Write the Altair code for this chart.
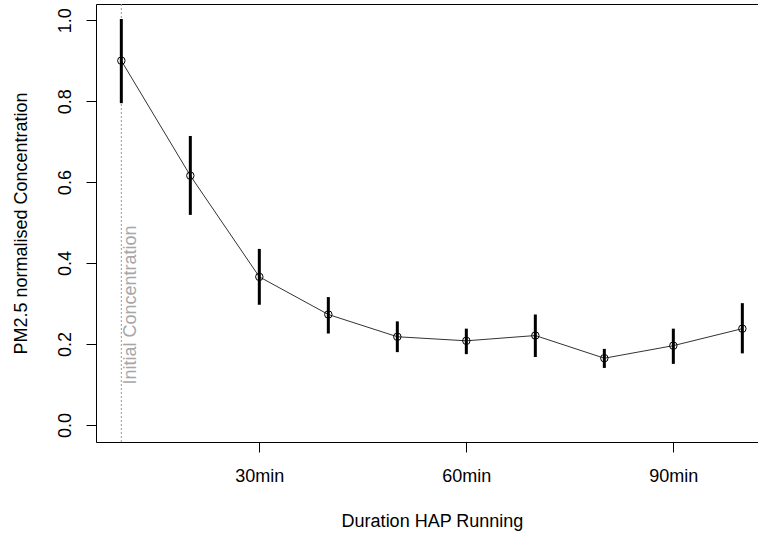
import altair as alt
import pandas as pd

# ---- data ----
minutes = [10, 20, 30, 40, 50, 60, 70, 80, 90, 100]
mean_conc = [0.900, 0.616, 0.366, 0.273, 0.218, 0.208, 0.221, 0.165, 0.196, 0.238]
lower_conc = [0.795, 0.519, 0.297, 0.226, 0.180, 0.175, 0.168, 0.141, 0.151, 0.177]
upper_conc = [1.003, 0.714, 0.435, 0.316, 0.256, 0.238, 0.273, 0.188, 0.238, 0.301]
x_tick_values = [30, 60, 90]
y_tick_values = [0.0, 0.2, 0.4, 0.6, 0.8, 1.0]
annot_time = [10]
annot_y = [0.1]
annot_label = ["Initial Concentration"]

df = pd.DataFrame({"t": minutes, "mean": mean_conc, "lo": lower_conc, "hi": upper_conc})
ann = pd.DataFrame({"t0": annot_time, "y0": annot_y, "label": annot_label})

FONT = "Liberation Sans"
xscale = alt.Scale(domain=[6.33, 102.27], nice=False, zero=False)
yscale = alt.Scale(domain=[-0.042, 1.04], nice=False, zero=False)

bottom_axis = alt.Axis(
    orient="bottom", values=x_tick_values, labelExpr="datum.value + 'min'",
    tickSize=10, tickColor="black", domainColor="black", grid=False,
    labelPadding=29.5, labelBaseline="alphabetic", labelFont=FONT, labelFontSize=18,
    labelColor="black", labelFlush=False, labelOverlap=False,
    title="Duration HAP Running", titleFont=FONT, titleFontSize=18,
    titleFontWeight="normal", titleColor="black", titleX=336, titleY=84,
    titleBaseline="alphabetic", titleAlign="center",
)
top_axis = alt.Axis(orient="top", labels=False, ticks=False, domain=True,
                    domainColor="black", grid=False, title=None)
y_axis = alt.Axis(
    values=y_tick_values, format=".1f", tickSize=10, tickColor="black",
    domainColor="black", grid=False, labelAngle=270, labelAlign="center",
    labelBaseline="alphabetic", labelPadding=15.3, labelFont=FONT, labelFontSize=18,
    labelColor="black", labelFlush=False, labelOverlap=False,
    title="PM2.5 normalised Concentration", titleFont=FONT, titleFontSize=18,
    titleFontWeight="normal", titleColor="black", titleAngle=270,
    titleX=-69.3, titleY=219, titleBaseline="alphabetic", titleAlign="center",
)

base = alt.Chart(df)

vline = alt.Chart(ann).mark_rule(color="#999999", strokeDash=[2, 2], strokeWidth=1).encode(
    x=alt.X("t0:Q", scale=xscale, axis=top_axis)
)
vtext = alt.Chart(ann).mark_text(
    angle=270, align="left", baseline="alphabetic", dy=14.7,
    font=FONT, fontSize=18, color="#a6a6a6"
).encode(
    x=alt.X("t0:Q", scale=xscale, axis=None),
    y=alt.Y("y0:Q", scale=yscale, axis=y_axis),
    text="label:N",
)
line = base.mark_line(color="#333333", strokeWidth=1).encode(
    x=alt.X("t:Q", scale=xscale, axis=None),
    y=alt.Y("mean:Q", scale=yscale, axis=y_axis),
)
points = base.mark_point(shape="circle", filled=False, size=56, color="black",
                         strokeWidth=1, opacity=1).encode(
    x=alt.X("t:Q", scale=xscale, axis=bottom_axis),
    y=alt.Y("mean:Q", scale=yscale, axis=y_axis),
)
bars = base.mark_rule(color="black", strokeWidth=3).encode(
    x=alt.X("t:Q", scale=xscale, axis=None),
    y=alt.Y("lo:Q", scale=yscale, axis=y_axis),
    y2="hi:Q",
)

chart = alt.layer(vline, vtext, line, points, bars).resolve_axis(
    x="independent"
).properties(
    width=662, height=438,
    autosize=alt.AutoSizeParams(type="none"),
    padding={"left": 96, "top": 4, "right": 0, "bottom": 95},
    background="white",
).configure_view(stroke=None).configure(font=FONT)

chart.save("out.html", embed_options={"renderer": "svg", "actions": False})
